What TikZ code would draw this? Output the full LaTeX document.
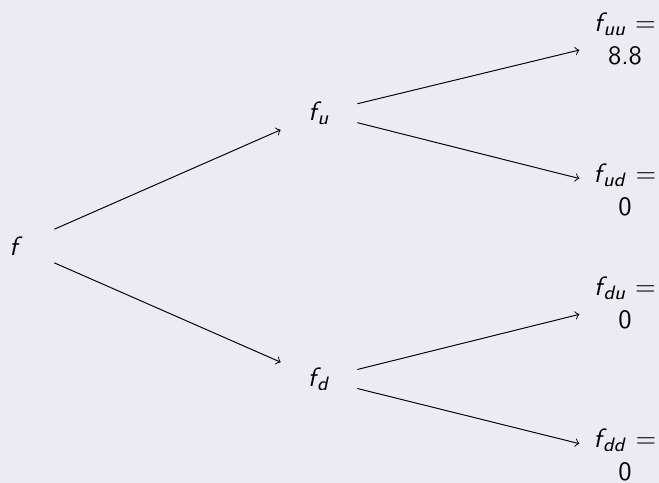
\documentclass[tikz,border=0pt,11pt]{standalone}
\definecolor{fondo}{HTML}{EBEBF4}
\tikzset{
  nodo/.style={minimum width=1.1cm,minimum height=1cm,align=center,inner sep=0pt},
  hoja/.style={nodo,minimum width=1.31cm},
  rama/.style={->,thin,color=black},
}
\newcommand{\fv}[1]{\textsl{f}\kern-.14em\textsubscript{\textsl{#1}}}
\begin{document}
\begin{tikzpicture}[font=\sffamily]
  \useasboundingbox (0,0) rectangle (9.562,-7.008);
  \fill[fondo] (0,0) rectangle (9.562,-7.008);
  \node[nodo] (f) at (0.232,-3.570) {\textsl{f}};
  \node[nodo] (fu) at (4.629,-1.640) {\fv{u}};
  \node[nodo] (fd) at (4.629,-5.499) {\fv{d}};
  \node[hoja] (fuu) at (9.069,-0.566) {\fv{uu} =\\8.8};
  \node[hoja] (fud) at (9.069,-2.757) {\fv{ud} =\\0};
  \node[hoja] (fdu) at (9.069,-4.397) {\fv{du} =\\0};
  \node[hoja] (fdd) at (9.069,-6.602) {\fv{dd} =\\0};
  \foreach \a/\b in {f/fu,f/fd,fu/fuu,fu/fud,fd/fdu,fd/fdd}
    \draw[rama] (\a) -- (\b);
\end{tikzpicture}
\end{document}
